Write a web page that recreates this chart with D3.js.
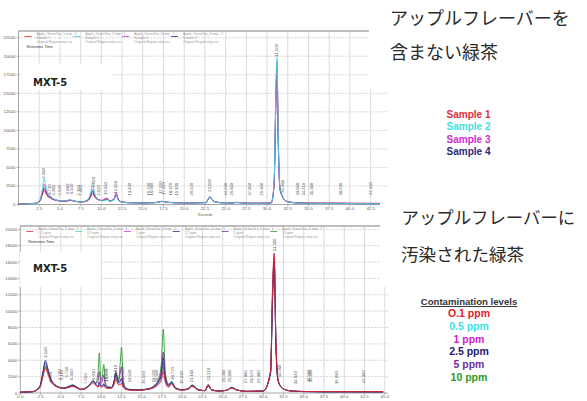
<!DOCTYPE html>
<html><head><meta charset="utf-8">
<script src="https://cdn.jsdelivr.net/npm/d3@7/dist/d3.min.js"></script>
<style>body{margin:0;background:#fff}svg{display:block}</style>
</head><body>
<svg id="c" width="587" height="401"></svg>
<script>
// ---------------- DATA ----------------
// Top chart: green tea without apple flavour (4 samples)
const topTimes = [0,2.0,2.6,2.9,3.1,3.3,3.6,3.85,4.1,4.6,
  5.2,5.8,6.2,6.8,7.6,8.4,8.75,8.95,9.2,9.6,
  10.1,10.5,10.7,11.0,11.5,11.8,12.1,12.6,13.5,15.0,
  16.6,17.3,18.0,19.5,21.0,22.6,23.1,23.6,24.5,25.8,
  26.3,27.5,29.0,30.5,30.85,31.05,31.2,31.35,31.55,31.8,
  32.1,32.6,33.5,35.0,37.0,39.0,41.0,43.0,44.5];
const sample1 = [100,160,500,1400,1900,1500,1000,900,700,550,
  450,450,550,420,340,550,1100,1500,1000,650,
  550,800,850,500,650,1200,550,320,250,220,
  260,400,300,230,220,260,950,420,250,230,
  290,200,190,230,2600,13000,18500,8600,2200,1200,
  620,350,250,200,200,200,180,170,160];
const sample2 = [60,120,700,2300,3550,2500,1400,1200,850,600,
  450,550,650,450,350,700,1900,2900,1500,700,
  500,550,650,450,600,1200,500,300,220,200,
  250,450,300,200,200,250,1100,400,220,200,
  260,160,150,200,3000,14500,19800,9500,2400,1300,
  650,350,220,160,150,150,120,110,100];
const sample3 = [80,150,600,1900,2700,2000,1200,1050,800,600,
  450,500,600,450,350,650,1500,2100,1300,700,
  550,750,800,500,750,1600,600,320,240,210,
  260,420,300,220,210,260,1000,420,240,210,
  280,170,160,210,2800,13500,19300,9000,2300,1250,
  640,340,230,170,160,160,130,120,110];
const sample4 = [70,140,550,1600,2200,1700,1100,950,750,580,
  440,480,580,440,340,600,1300,1800,1150,680,
  520,650,700,470,650,1350,560,310,230,200,
  250,430,300,210,200,250,1000,400,230,200,
  270,160,150,200,2700,13200,18800,8800,2250,1220,
  630,340,220,160,150,150,120,110,100];
const topSampleNames = ["Sample 1","Sample 2","Sample 3","Sample 4"];
const topYTicks = [0,2500,5000,7500,10000,12500,15000,17500,20000,22500];
const topXTicks = [2.5,5.0,7.5,10.0,12.5,15.0,17.5,20.0,22.5,25.0,27.5,30.0,32.5,35.0,37.5,40.0,42.5];
const topPeakTimes = [2.98,3.71,4.28,4.92,5.86,6.34,7.19,7.44,9.05,9.62,10.56,11.69,13.40,15.70,16.06,17.12,17.52,18.37,19.10,20.92,23.00,24.93,25.66,27.85,29.30,31.20,31.86,33.68,34.41,35.38,38.90,42.43];
const topPeakLevels = [3500,1300,1200,1200,1400,1400,1200,1200,2300,1200,1300,1500,1200,1200,1200,1400,1300,1200,1200,1200,1700,1200,1200,1200,1200,19900,1600,1200,1200,1200,1200,1300];

// Bottom chart: green tea contaminated with apple flavour (6 levels)
const botTimes = [0,1.5,2.4,2.8,3.1,3.4,3.8,4.1,4.5,5.0,
  5.4,5.9,6.5,7.0,7.6,8.2,8.7,9.0,9.3,9.6,
  9.75,9.95,10.15,10.3,10.5,10.8,11.3,11.6,11.8,12.1,
  12.35,12.5,12.7,13.0,13.5,14.5,15.8,16.5,17.0,17.4,
  17.65,17.9,18.3,18.7,19.1,20.0,20.8,21.2,22.0,22.8,
  23.2,23.6,24.5,25.5,26.1,26.7,28.0,30.0,30.9,31.15,
  31.35,31.55,31.8,32.1,32.6,33.5,35.0,37.5,40.0,42.5,44.8];
const ppm01 = [120,170,600,2000,3000,2300,1300,1000,750,600,
  550,650,800,600,420,600,1000,1200,950,700,
  900,700,750,850,650,550,600,1100,1700,1000,
  1000,1200,700,450,350,320,450,650,1000,1500,
  2600,1300,700,1100,550,350,500,800,360,300,
  1060,420,250,320,600,360,200,230,2700,13000,
  17100,7000,1800,900,450,250,190,170,160,160,160];
const ppm05 = [110,160,750,2400,3500,2700,1500,1100,800,620,
  560,700,850,620,430,650,1100,1350,1000,750,
  1100,800,850,950,700,580,650,1300,2000,1150,
  1200,1400,800,500,380,340,470,700,1100,1800,
  3200,1500,800,1200,600,360,520,850,370,290,
  950,400,240,320,620,370,200,235,2600,12500,
  16500,6700,1700,880,440,245,180,150,150,150,150];
const ppm1 = [110,160,700,2300,3200,2500,1400,1050,780,610,
  560,700,850,620,430,650,1150,1400,1050,800,
  1400,850,900,1100,750,590,660,1350,2200,1200,
  1500,1800,850,520,390,340,480,720,1150,2100,
  3700,1600,850,1250,620,370,530,870,375,290,
  980,400,240,325,640,370,200,235,2650,12700,
  16800,6800,1750,890,445,245,180,150,150,150,150];
const ppm25 = [100,150,800,2600,4000,3000,1700,1200,850,650,
  600,750,900,650,450,700,1200,1500,1100,800,
  1300,900,900,1100,800,600,700,1500,2600,1300,
  1500,1800,900,550,400,350,500,800,1300,2200,
  4300,1800,900,1300,650,380,550,900,380,280,
  850,380,240,330,650,380,200,240,2400,11500,
  16000,6200,1600,850,430,240,170,140,140,130,130];
const ppm5 = [100,150,780,2500,3700,2800,1600,1150,820,640,
  580,760,950,680,440,700,1200,1450,1150,1500,
  2600,1200,1500,2200,1000,700,680,1500,2400,1400,
  2500,3200,1300,600,420,370,500,850,1400,2700,
  5000,2100,1000,1350,680,390,570,950,390,290,
  880,390,245,340,680,390,200,245,2450,11800,
  16300,6300,1650,870,440,245,175,145,145,135,135];
const ppm10 = [100,150,700,2200,3300,2600,1500,1100,800,650,
  600,800,1000,700,450,700,1200,1500,1200,2500,
  4900,1500,2200,3500,1300,800,700,1600,2400,1500,
  3800,5600,1800,700,450,400,500,900,1500,3500,
  7800,2600,1100,1400,700,400,600,1000,400,300,
  900,400,250,350,700,400,200,250,2500,12000,
  16300,6500,1700,900,450,250,180,150,150,140,140];
const levelNames = ["O.1 ppm","0.5 ppm","1 ppm","2.5 ppm","5 ppm","10 ppm"];
const botYTicks = [0,2000,4000,6000,8000,10000,12000,14000,16000,18000,20000];
const botXTicks = [0.0,2.5,5.0,7.5,10.0,12.5,15.0,17.5,20.0,22.5,25.0,27.5,30.0,32.5,35.0,37.5,40.0,42.5,45.0];
const botPeakTimes = [3.14,3.79,4.78,5.11,5.73,6.35,7.99,9.01,10.46,10.67,11.81,12.64,13.54,15.19,16.42,16.84,17.53,18.77,19.93,21.16,23.21,25.06,25.80,27.86,28.57,29.38,31.35,32.06,34.04,35.56,35.85,39.06,42.35];
const botPeakLevels = [4300,1300,1600,1600,1900,1600,1100,1600,1400,1400,1900,1600,1300,1100,1300,1300,1800,1600,1100,1300,1500,1300,1300,1200,1200,1200,17300,1900,1100,1300,1300,1100,1200];

// ---------------- DRAW ----------------
const svg = d3.select("#c");
const C = {red:"#e2262e", cyan:"#3fd6da", magenta:"#d236cf", navy:"#27307f", purple:"#7a2ca2", green:"#2e9a30"};

function chart(o){
  const g = svg.append("g");
  const x = d3.scaleLinear().domain(o.xDomain).range(o.xRange);
  const y = d3.scaleLinear().domain(o.yDomain).range(o.yRange);
  const [x0,x1] = o.xRange, yb = o.yRange[0];
  g.append("g").selectAll("line").data(o.yTicks.filter(d=>d>0)).join("line")
    .attr("x1",x0).attr("x2",x1).attr("y1",d=>y(d)).attr("y2",d=>y(d))
    .attr("stroke","#b8b8b8").attr("stroke-width",0.7).attr("stroke-dasharray","1.6,1.4");
  g.append("g").selectAll("line").data(o.xTicks.filter(d=>d>0)).join("line")
    .attr("x1",d=>x(d)).attr("x2",d=>x(d)).attr("y1",o.frameTop).attr("y2",yb)
    .attr("stroke","#d2d2d2").attr("stroke-width",0.8);
  g.append("line").attr("x1",x0).attr("x2",x1).attr("y1",o.frameTop).attr("y2",o.frameTop)
    .attr("stroke","#a8a8a8").attr("stroke-width",1.4);
  g.append("line").attr("x1",x0).attr("x2",x0).attr("y1",o.frameTop).attr("y2",yb+1).attr("stroke","#909090").attr("stroke-width",0.8);
  g.append("line").attr("x1",x0).attr("x2",x1).attr("y1",yb).attr("y2",yb).attr("stroke","#909090").attr("stroke-width",0.8);
  const yt = g.append("g").selectAll("g").data(o.yTicks).join("g").attr("transform",d=>`translate(${x0},${y(d)})`);
  yt.append("line").attr("x1",-2).attr("x2",0).attr("stroke","#888").attr("stroke-width",0.6);
  yt.append("text").attr("x",-3).attr("dy","0.35em").attr("text-anchor","end")
    .attr("font-family","Liberation Sans, Arial, sans-serif").attr("font-size",4.3).attr("fill","#555").text(d=>d);
  const xt = g.append("g").selectAll("g").data(o.xTicks).join("g").attr("transform",d=>`translate(${x(d)},${yb})`);
  xt.append("line").attr("y1",0).attr("y2",2).attr("stroke","#888").attr("stroke-width",0.6);
  xt.append("text").attr("y",o.xLabelDy).attr("text-anchor","middle")
    .attr("font-family","Liberation Sans, Arial, sans-serif").attr("font-size",4.3).attr("fill","#555").text(d=>d.toFixed(1));
  if(o.xTitle){
    g.append("text").attr("x",(x0+x1)/2+2).attr("y",yb+o.xLabelDy+5.5).attr("text-anchor","middle")
      .attr("font-family","Liberation Sans, Arial, sans-serif").attr("font-size",3.8).attr("fill","#666").text(o.xTitle);
  }
  g.append("rect").attr("x",o.boxX).attr("y",o.boxY).attr("width",o.boxW).attr("height",o.boxH).attr("fill","#fff");
  g.append("text").attr("x",o.boxX+13).attr("y",o.labelY)
    .attr("font-family","DejaVu Sans, Verdana, sans-serif").attr("font-weight","bold").attr("font-size",10).attr("fill","#222").text("MXT-5");
  const line = d3.line().x((d,i)=>x(o.times[i])).y(d=>y(d)).curve(d3.curveMonotoneX);
  o.series.forEach(s=>{
    g.append("path").datum(s.values).attr("d",line).attr("fill","none")
      .attr("stroke",s.color).attr("stroke-width",0.9).attr("stroke-linejoin","round");
  });
  g.append("g").selectAll("text").data(o.peakTimes).join("text")
    .attr("transform",(d,i)=>`translate(${x(d)+1.5},${y(o.peakLevels[i])}) rotate(-90)`)
    .attr("font-family","Liberation Sans, Arial, sans-serif").attr("font-size",4.2).attr("fill","#555")
    .text(d=>d.toFixed(3));
  const hg = g.append("g").selectAll("g").data(o.header).join("g")
    .attr("transform",(d,i)=>`translate(${x0+18+i*48.8},${o.frameTop+2})`);
  hg.append("line").attr("x1",-12).attr("x2",-5).attr("y1",3.5).attr("y2",3.5).attr("stroke",d=>d.color).attr("stroke-width",0.8);
  const hf = "Liberation Sans, Arial, sans-serif";
  hg.append("text").attr("y",1.9).attr("font-family",hf).attr("font-size",3.3).attr("fill","#9a9a9a").text((d,i)=>"Apple_GreenTea_"+(i+1)+".smp : 1");
  hg.append("text").attr("y",5.8).attr("font-family",hf).attr("font-size",3.3).attr("fill","#9a9a9a").text(d=>d.name);
  hg.append("text").attr("y",9.7).attr("font-family",hf).attr("font-size",3.3).attr("fill","#9a9a9a").text("Original Region.smp.csv");
  g.append("text").attr("x",x0+8).attr("y",o.frameTop+17.2).attr("font-family",hf)
    .attr("font-size",3.9).attr("fill","#333").text("Retention Time");
}

chart({
  times: topTimes,
  xDomain:[0,44.6], xRange:[18.5,388], yDomain:[0,22500], yRange:[204.5,37.7], frameTop:31,
  yTicks: topYTicks, xTicks: topXTicks, xLabelDy:5.5, xTitle:"Seconds",
  boxX:20, boxY:64, boxW:90, boxH:26, labelY:86,
  series:[
    {values:sample1,color:C.red},{values:sample4,color:C.navy},
    {values:sample3,color:C.magenta},{values:sample2,color:C.cyan}],
  peakTimes: topPeakTimes, peakLevels: topPeakLevels,
  header: topSampleNames.map((n,i)=>({name:n,color:[C.red,C.cyan,C.magenta,C.navy][i]}))
});
chart({
  times: botTimes,
  xDomain:[0,45.4], xRange:[20.3,388], yDomain:[0,20000], yRange:[393,229.3], frameTop:226,
  yTicks: botYTicks, xTicks: botXTicks, xLabelDy:5.3, xTitle:null,
  boxX:20, boxY:252, boxW:80, boxH:35, labelY:271.5,
  series:[
    {values:ppm05,color:C.cyan},{values:ppm1,color:C.magenta},{values:ppm10,color:C.green},
    {values:ppm5,color:C.purple},{values:ppm25,color:C.navy},{values:ppm01,color:C.red}],
  peakTimes: botPeakTimes, peakLevels: botPeakLevels,
  header: levelNames.map((n,i)=>({name:n,color:[C.red,C.cyan,C.magenta,C.navy,C.purple,C.green][i]}))
});

svg.append("rect").attr("x",369).attr("y",0).attr("width",218).attr("height",89).attr("fill","#fff");
svg.append("rect").attr("x",380).attr("y",195).attr("width",207).attr("height",92).attr("fill","#fff");

const jp = "Noto Sans CJK JP, sans-serif";
[["アップルフレーバーを",390,24.5,18],["含まない緑茶",390,59,18],
 ["アップルフレーバーに",401.5,224,17.4],["汚染された緑茶",401,260.5,17.6]].forEach(t=>{
  svg.append("text").attr("x",t[1]).attr("y",t[2]).attr("font-family",jp).attr("font-size",t[3]).attr("fill","#2a2a2a").text(t[0]);
});

const legColors1 = ["#e0303c","#40e0e0","#d030d0","#2a2a78"];
svg.append("g").selectAll("text").data(topSampleNames).join("text")
  .attr("x",468.5).attr("y",(d,i)=>117.8+i*12.55).attr("text-anchor","middle")
  .attr("font-family","Liberation Sans, Arial, sans-serif").attr("font-weight","bold").attr("font-size",10)
  .attr("fill",(d,i)=>legColors1[i]).text(d=>d);

svg.append("text").attr("x",469).attr("y",305).attr("text-anchor","middle")
  .attr("font-family","Liberation Sans, Arial, sans-serif").attr("font-weight","bold").attr("font-size",9.6)
  .attr("fill","#333").attr("text-decoration","underline").text("Contamination levels");
const legColors2 = ["#e02028","#40e0e8","#d020d0","#1c1c70","#7030a0","#2a9a2a"];
svg.append("g").selectAll("text").data(levelNames).join("text")
  .attr("x",469).attr("y",(d,i)=>317+i*12.75).attr("text-anchor","middle")
  .attr("font-family","Liberation Sans, Arial, sans-serif").attr("font-weight","bold").attr("font-size",10.5)
  .attr("fill",(d,i)=>legColors2[i]).text(d=>d);
</script>
</body></html>
